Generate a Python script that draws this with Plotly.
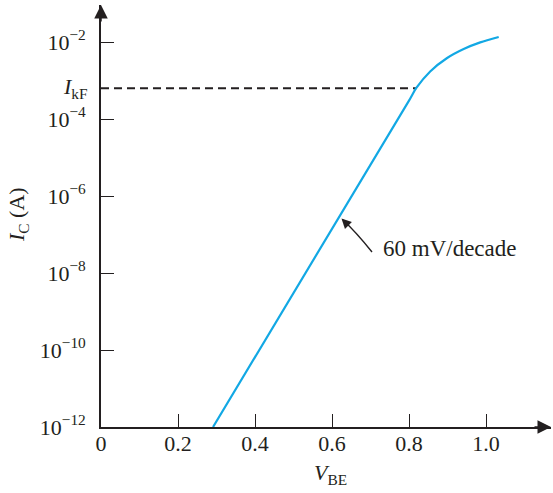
import plotly.graph_objects as go

# ---- data ----
vbe = [0.291, 0.800, 0.819, 0.855, 0.899, 0.942, 0.985, 1.033]
ic = [1e-12, 3.0e-4, 6.4e-4, 1.72e-3, 3.84e-3, 6.58e-3, 9.77e-3, 1.35e-2]

ikf = 6.3e-4
ikf_v_end = 0.819

x_tickvals = [0, 0.2, 0.4, 0.6, 0.8, 1.0]
x_ticktext = ["0", "0.2", "0.4", "0.6", "0.8", "1.0"]
y_tickvals = [1e-12, 1e-10, 1e-8, 1e-6, 1e-4, 1e-2]
y_ticktext = ["10<sup>\u221212</sup>", "10<sup>\u221210</sup>", "10<sup>\u22128</sup>",
              "10<sup>\u22126</sup>", "10<sup>\u22124</sup>", "10<sup>\u22122</sup>"]

INK = "#231f20"
BLUE = "#12a8e4"
FONT = "Liberation Serif"

fig = go.Figure()
fig.add_trace(go.Scatter(x=[0, ikf_v_end], y=[ikf, ikf], mode="lines",
                         line=dict(color=INK, width=1.8, dash="8px,5px"),
                         hoverinfo="skip", showlegend=False))
fig.add_trace(go.Scatter(x=vbe, y=ic, mode="lines",
                         line=dict(color=BLUE, width=2.2, shape="spline", smoothing=0.8),
                         showlegend=False))

L, R, T, B = 101, 2, 5, 66
W, H = 553, 493
pw = W - L - R
ph = H - T - B
xmax = pw / 385.0
ytop = -12 + ph / 38.5

fig.update_layout(
    width=W, height=H,
    margin=dict(l=L, r=R, t=T, b=B),
    paper_bgcolor="white", plot_bgcolor="white",
    font=dict(family=FONT, size=22, color=INK),
    showlegend=False,
    xaxis=dict(range=[0, xmax], showgrid=False, zeroline=False,
               showline=True, linecolor=INK, linewidth=1.6,
               ticks="inside", ticklen=13, tickwidth=1.3, tickcolor=INK,
               tickvals=x_tickvals, ticktext=x_ticktext, ticklabelstandoff=-4),
    yaxis=dict(type="log", range=[-12, ytop], showgrid=False, zeroline=False,
               showline=True, linecolor=INK, linewidth=1.6,
               ticks="inside", ticklen=13, tickwidth=1.3, tickcolor=INK,
               tickvals=y_tickvals, ticktext=y_ticktext, ticklabelstandoff=9),
)

def px2paper(px, py):
    return (px - L) / pw, (H - B - py) / ph

anns = []
# axis arrowheads
anns.append(dict(xref="paper", yref="paper", x=0, y=1, ax=0, ay=18, text="",
                 showarrow=True, arrowhead=2, arrowsize=1.8, arrowwidth=1.5, arrowcolor=INK))
anns.append(dict(xref="paper", yref="paper", x=1, y=0, ax=-18, ay=0, text="",
                 showarrow=True, arrowhead=2, arrowsize=1.8, arrowwidth=1.5, arrowcolor=INK))
# I_kF label
anns.append(dict(xref="paper", yref="y", x=0, y=-3.2, xshift=-11, xanchor="right", yanchor="middle",
                 text="<i>I</i><sub>kF</sub>", showarrow=False))
# slope annotation text
tx, ty = px2paper(381, 248)
anns.append(dict(xref="paper", yref="paper", x=tx, y=ty, xanchor="left", yanchor="middle",
                 text="60 mV/decade", showarrow=False, font=dict(size=23)))
# arrowhead of curved pointer
hx, hy = px2paper(341.5, 218.5)
anns.append(dict(xref="paper", yref="paper", x=hx, y=hy, ax=7, ay=7, text="",
                 showarrow=True, arrowhead=2, arrowsize=1.4, arrowwidth=1.4, arrowcolor=INK))
# axis titles
axx, axy = px2paper(330, 474)
anns.append(dict(xref="paper", yref="paper", x=axx, y=axy, xanchor="center", yanchor="middle",
                 text="<i>V</i><sub>BE</sub>", showarrow=False))
ayx, ayy = px2paper(18, 215)
anns.append(dict(xref="paper", yref="paper", x=ayx, y=ayy, xanchor="center", yanchor="middle",
                 text="<i>I</i><sub>C</sub> (A)", textangle=-90, showarrow=False))
fig.update_layout(annotations=anns)

# curved pointer line
p0 = px2paper(372, 252)
p1 = px2paper(356, 232)
p2 = px2paper(343, 220)
fig.add_shape(type="path", xref="paper", yref="paper",
              path=f"M {p0[0]} {p0[1]} Q {p1[0]} {p1[1]} {p2[0]} {p2[1]}",
              line=dict(color=INK, width=1.4))

fig.write_html("out.html")
